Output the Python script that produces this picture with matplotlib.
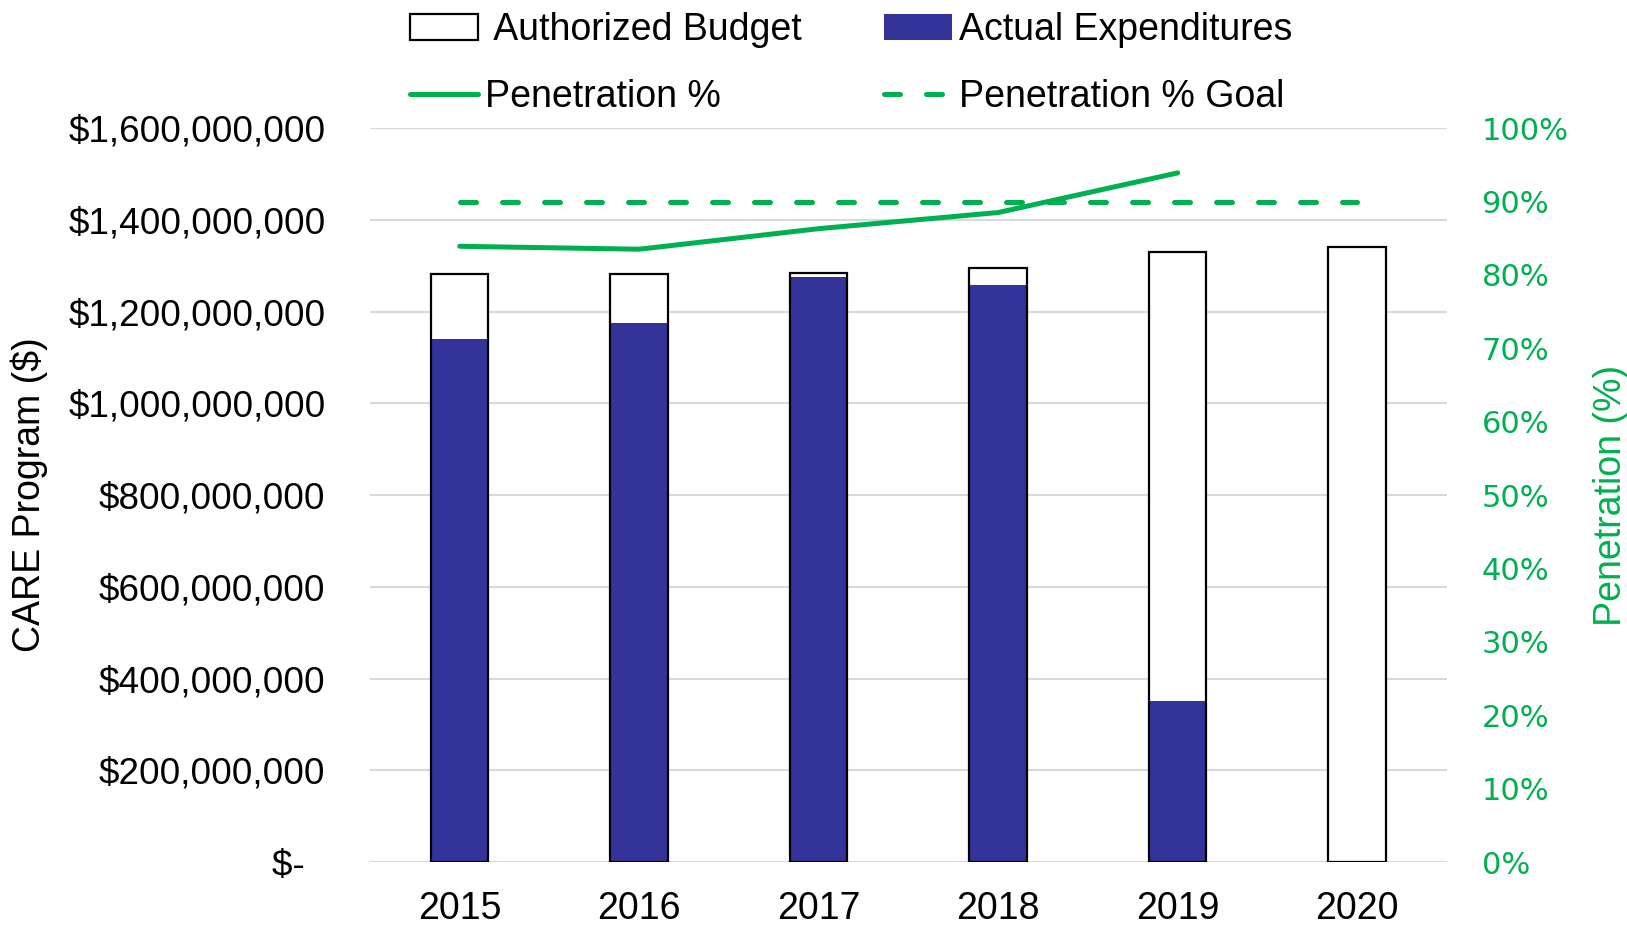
import numpy as np
import matplotlib
matplotlib.use("Agg")
import matplotlib.pyplot as plt
from matplotlib.patches import Patch
from matplotlib.lines import Line2D
from matplotlib.ticker import FuncFormatter, MultipleLocator

plt.rcParams['font.family'] = ['Liberation Sans', 'DejaVu Sans']

# data
years = ["2015", "2016", "2017", "2018", "2019", "2020"]
budget = [1283e6, 1283e6, 1285e6, 1294e6, 1330e6, 1341e6]
actual = [1140e6, 1176e6, 1276e6, 1258e6, 351e6, 0]
penetration = [83.9, 83.5, 86.3, 88.5, 93.9]   # 2015-2019
goal = [90, 90, 90, 90, 90, 90]

blue = '#333399'
green = '#00B050'
fs = 27
dash = (3.2, 5.2)

fig = plt.figure(figsize=(16.27, 9.25), dpi=100)
ax = fig.add_axes([0.2274, 0.068, 0.6619, 0.7935])

x = np.arange(len(years))
w = 0.32
ax.bar(x, budget, w, color='white', zorder=2)
ax.bar(x, actual, w, color=blue, zorder=3)
ax.bar(x, budget, w, fill=False, edgecolor='black', lw=1.6, zorder=4)

ax.set_xlim(-0.5, 5.5)
ax.set_ylim(0, 1.6e9)
ax.yaxis.set_major_locator(MultipleLocator(2e8))
ax.set_xticks(x)
ax.set_xticklabels(years)


def money(v, pos):
    if v == 0:
        return '\\$-  '
    return '\\${:,.0f}'.format(v)


ax.yaxis.set_major_formatter(FuncFormatter(money))
ax.grid(axis='y', color='#D9D9D9', lw=1.5)
ax.set_axisbelow(True)
for s in ax.spines.values():
    s.set_visible(False)
ax.tick_params(axis='x', length=0, labelsize=fs, pad=21)
ax.tick_params(axis='y', length=0, labelsize=26.6, pad=32)
ax.set_ylabel('CARE Program (\\$)', fontsize=fs)
ax.yaxis.set_label_coords(-0.299, 0.5)

ax2 = ax.twinx()
ax2.set_ylim(0, 100)
ax2.yaxis.set_major_locator(MultipleLocator(10))
ax2.yaxis.set_major_formatter(FuncFormatter(lambda v, p: '%d%%' % v))
for s in ax2.spines.values():
    s.set_visible(False)
ax2.tick_params(axis='y', length=0, labelsize=22, pad=25, labelcolor=green)
for t in ax2.get_yticklabels():
    t.set_fontfamily('DejaVu Sans')
ax2.set_ylabel('Penetration (%)', fontsize=fs, color=green, rotation=90)
ax2.yaxis.set_label_coords(1.136, 0.5)

ax2.plot(x[:len(penetration)], penetration, color=green, lw=3.6,
         solid_capstyle='round', zorder=5)
ax2.plot(x, goal, color=green, lw=3.6, dashes=dash,
         dash_capstyle='round', zorder=5)

handles = [
    Patch(facecolor='white', edgecolor='black', lw=1.6),
    Line2D([], [], color=green, lw=3.6, solid_capstyle='round'),
    Patch(facecolor=blue),
    Line2D([], [], color=green, lw=3.6, dashes=dash, dash_capstyle='round'),
]
labels = [' Authorized Budget', 'Penetration %', 'Actual Expenditures', 'Penetration % Goal']
fig.legend(handles, labels, ncol=2, loc='upper left',
           bbox_to_anchor=(410 / 1627, 1 - 12 / 925), frameon=False,
           fontsize=fs, handlelength=1.8, handletextpad=0.2,
           columnspacing=2.2, labelspacing=0.82, borderpad=0, borderaxespad=0)

fig.savefig('out.png', dpi=100)
